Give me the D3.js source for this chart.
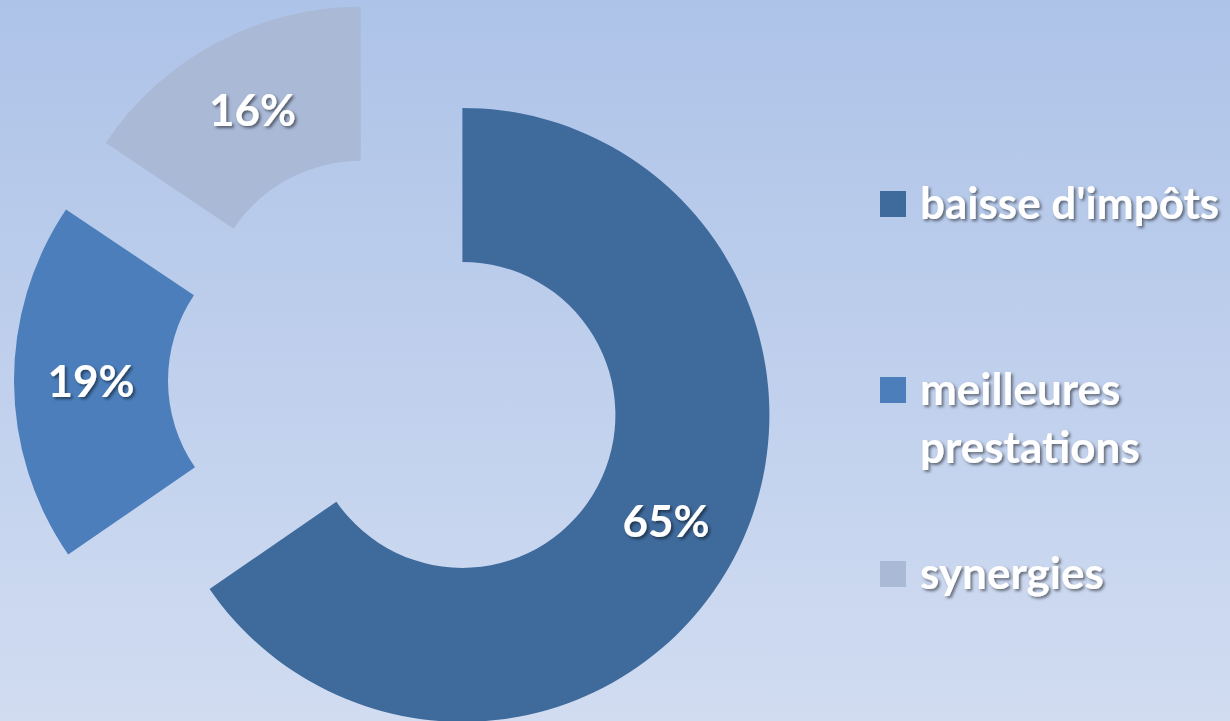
<!DOCTYPE html>
<html>
<head>
<meta charset="utf-8">
<script src="https://cdn.jsdelivr.net/npm/d3@7"></script>
<style>
  body { margin: 0; overflow: hidden; }
  text { font-family: Lato, "Open Sans", sans-serif; font-weight: 700; }
</style>
</head>
<body>
<svg id="chart" width="1230" height="721"></svg>
<script>
var width = 1230;
var height = 721;

// data (labels show the rounded share)
var categories = ["baisse d'impôts", "meilleures prestations", "synergies"];
var values = [65.4, 19.0, 15.6];
var legendLines = [["baisse d'impôts"], ["meilleures", "prestations"], ["synergies"]];
var colors = ["#3f6a9c", "#4b7ebb", "#a9b9d6"];

var cx = 396, cy = 380;
var outerR = 307, innerR = 153, explode = 75;

var svg = d3.select("#chart");
var defs = svg.append("defs");

var grad = defs.append("linearGradient")
    .attr("id", "bg").attr("x1", 0).attr("y1", 0).attr("x2", 0).attr("y2", 1);
grad.append("stop").attr("offset", "0%").attr("stop-color", "#adc3e8");
grad.append("stop").attr("offset", "100%").attr("stop-color", "#d1dcf1");

var shadow = defs.append("filter").attr("id", "shadow")
    .attr("x", "-20%").attr("y", "-20%").attr("width", "140%").attr("height", "140%");
shadow.append("feDropShadow")
    .attr("dx", 2).attr("dy", 2).attr("stdDeviation", 1.8)
    .attr("flood-color", "#000").attr("flood-opacity", 0.5);

svg.append("rect").attr("width", width).attr("height", height).attr("fill", "url(#bg)");

var pie = d3.pie().sort(null).value(function(d) { return d; });
var arc = d3.arc().innerRadius(innerR).outerRadius(outerR);
var arcs = pie(values);
var total = d3.sum(values);

function offset(d) {
  var a = (d.startAngle + d.endAngle) / 2;
  return [explode * Math.sin(a), -explode * Math.cos(a)];
}

var g = svg.append("g").attr("transform", "translate(" + cx + "," + cy + ")");

var slice = g.selectAll("g.slice")
    .data(arcs)
    .enter().append("g")
    .attr("class", "slice")
    .attr("transform", function(d) { var o = offset(d); return "translate(" + o[0] + "," + o[1] + ")"; });

slice.append("path")
    .attr("d", arc)
    .attr("fill", function(d, i) { return colors[i]; });

slice.append("text")
    .attr("transform", function(d) { var c = arc.centroid(d); return "translate(" + c[0] + "," + c[1] + ")"; })
    .attr("text-anchor", "middle")
    .attr("dy", "0.35em")
    .attr("font-size", 44)
    .attr("fill", "#fff")
    .attr("filter", "url(#shadow)")
    .text(function(d) { return Math.round(d.data / total * 100) + "%"; });

// legend
var legendY = [204, 390, 574];
var legend = svg.selectAll("g.legend")
    .data(categories)
    .enter().append("g")
    .attr("class", "legend")
    .attr("transform", function(d, i) { return "translate(880," + legendY[i] + ")"; });

legend.append("rect")
    .attr("x", 0).attr("y", -13)
    .attr("width", 26).attr("height", 26)
    .attr("fill", function(d, i) { return colors[i]; });

legend.append("text")
    .attr("x", 40)
    .attr("font-size", 44)
    .attr("fill", "#fff")
    .attr("filter", "url(#shadow)")
    .selectAll("tspan")
    .data(function(d, i) { return legendLines[i]; })
    .enter().append("tspan")
    .attr("x", 40)
    .attr("y", function(d, j) { return 15 + j * 58; })
    .text(function(d) { return d; });
</script>
</body>
</html>
